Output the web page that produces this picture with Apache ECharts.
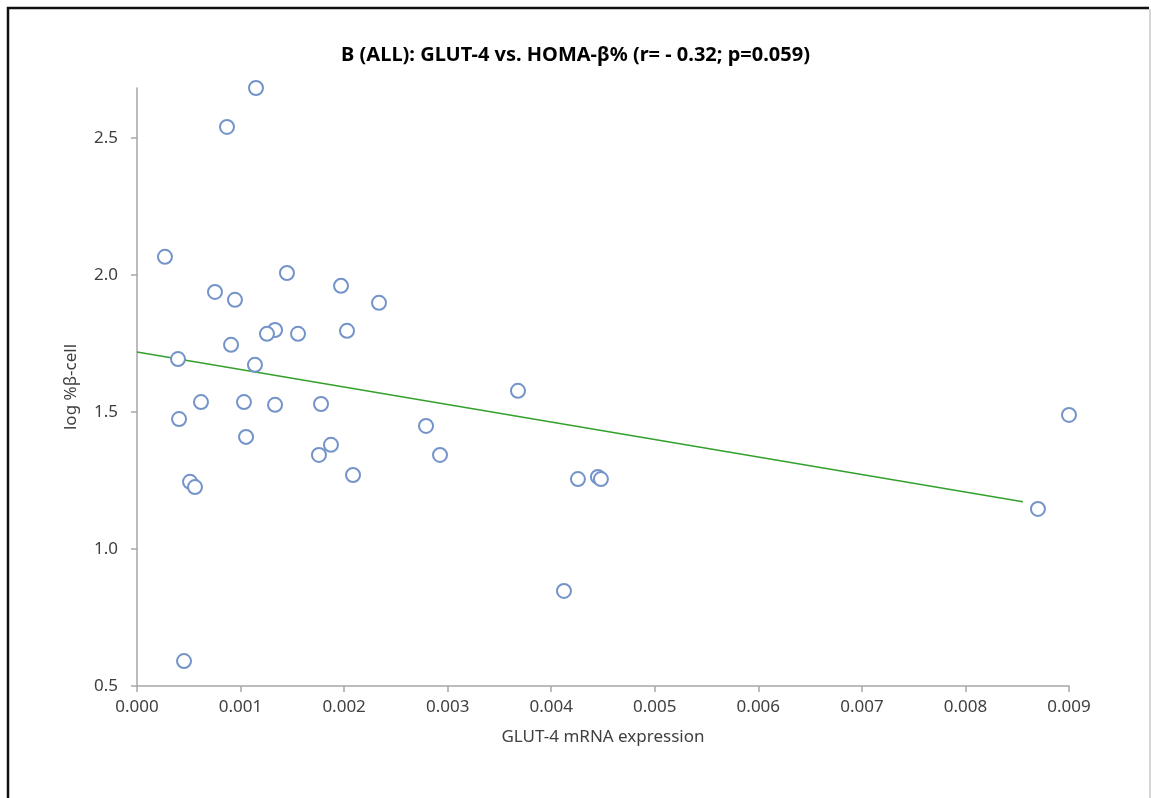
<!DOCTYPE html>
<html>
<head>
<meta charset="utf-8">
<script src="https://cdn.jsdelivr.net/npm/echarts@6/dist/echarts.min.js"></script>
<style>
html,body{margin:0;padding:0;background:#fff;}
#chart{width:1151px;height:798px;}
</style>
</head>
<body>
<div id="chart"></div>
<script>
// GLUT-4 mRNA expression (x) values
const glut4 = [0.001149, 0.000869, 0.000270, 0.001448, 0.000753, 0.000946, 0.001970, 0.002337,
  0.001333, 0.001255, 0.001555, 0.002028, 0.000908, 0.000396, 0.001139, 0.003679,
  0.000618, 0.001033, 0.001333, 0.001777, 0.000406, 0.009000, 0.002791, 0.001053,
  0.001873, 0.001757, 0.002926, 0.002086, 0.000512, 0.000560, 0.004258, 0.004451,
  0.004480, 0.008700, 0.004123, 0.000454];
// log %beta-cell (y) values
const logBeta = [2.682, 2.540, 2.066, 2.007, 1.938, 1.909, 1.960, 1.898,
  1.799, 1.785, 1.785, 1.796, 1.745, 1.693, 1.672, 1.577,
  1.536, 1.536, 1.526, 1.529, 1.474, 1.489, 1.449, 1.409,
  1.380, 1.343, 1.343, 1.270, 1.245, 1.226, 1.255, 1.263,
  1.255, 1.146, 0.847, 0.591];
// trend line end points
const trendX = [0, 0.008555];
const trendY = [1.719, 1.172];
const xTicks = [0, 0.001, 0.002, 0.003, 0.004, 0.005, 0.006, 0.007, 0.008, 0.009];
const yTicks = [0.5, 1.0, 1.5, 2.0, 2.5];

const titleText = 'B (ALL): GLUT-4 vs. HOMA-\u03b2% (r= - 0.32; p=0.059)';
const xName = 'GLUT-4 mRNA expression';
const yName = 'log %\u03b2-cell';

const points = glut4.map((x, i) => [x, logBeta[i]]);
const trend = trendX.map((x, i) => [x, trendY[i]]);

const chart = echarts.init(document.getElementById('chart'), null, {renderer: 'canvas'});
const axisColor = '#a6a6a6';
const labelColor = '#404040';
const font = 'Noto Sans';

chart.setOption({
  backgroundColor: '#ffffff',
  animation: false,
  title: {
    text: titleText,
    left: 'center',
    top: 40,
    textStyle: {fontFamily: font, fontSize: 20, fontWeight: 'bold', color: '#000'}
  },
  grid: {left: 137, right: 82, top: 88, bottom: 112, containLabel: false},
  xAxis: {
    type: 'value',
    min: 0, max: 0.009, interval: 0.001,
    name: xName,
    nameLocation: 'middle',
    nameGap: 43,
    nameTextStyle: {fontFamily: font, fontSize: 17, color: labelColor},
    axisLine: {show: true, lineStyle: {color: axisColor, width: 1.5}},
    axisTick: {show: true, length: 6, lineStyle: {color: axisColor, width: 1.5}},
    axisLabel: {fontFamily: font, fontSize: 17, color: labelColor, margin: 13,
      formatter: v => v.toFixed(3)},
    splitLine: {show: false}
  },
  yAxis: {
    type: 'value',
    min: 0.5, max: 2.682,
    name: yName,
    nameLocation: 'middle',
    nameGap: 57,
    nameRotate: 90,
    nameTextStyle: {fontFamily: font, fontSize: 17, color: labelColor},
    axisLine: {show: true, lineStyle: {color: axisColor, width: 1.5}},
    axisTick: {show: true, length: 6, customValues: yTicks, lineStyle: {color: axisColor, width: 1.5}},
    axisLabel: {fontFamily: font, fontSize: 17, color: labelColor, margin: 19, customValues: yTicks,
      formatter: v => v.toFixed(1)},
    splitLine: {show: false}
  },
  graphic: [
    {type: 'line', shape: {x1: 7, y1: 8, x2: 1149, y2: 8}, style: {stroke: '#111', lineWidth: 2.5}, silent: true},
    {type: 'line', shape: {x1: 8, y1: 7, x2: 8, y2: 798}, style: {stroke: '#111', lineWidth: 2.5}, silent: true},
    {type: 'line', shape: {x1: 1150, y1: 9, x2: 1150, y2: 798}, style: {stroke: '#c8c8c8', lineWidth: 1.5}, silent: true}
  ],
  series: [
    {
      type: 'line',
      data: trend,
      showSymbol: false,
      symbol: 'none',
      lineStyle: {color: '#33a02c', width: 1.5},
      z: 1
    },
    {
      type: 'scatter',
      data: points,
      symbol: 'emptyCircle',
      symbolSize: 14,
      itemStyle: {color: '#7393c9', borderWidth: 1.5, opacity: 1},
      z: 2
    }
  ]
});
</script>
</body>
</html>
